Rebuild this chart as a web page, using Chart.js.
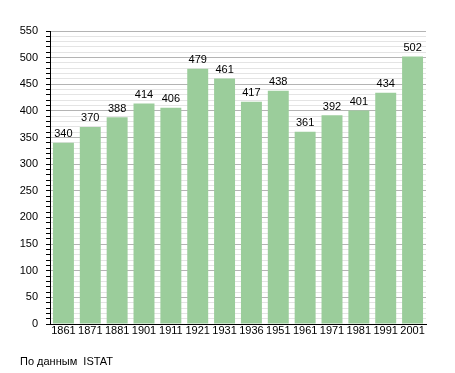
<!DOCTYPE html>
<html>
<head>
<meta charset="utf-8">
<script src="https://cdn.jsdelivr.net/npm/chart.js@4.4.0/dist/chart.umd.min.js"></script>
<style>
  body { margin: 0; background: #fff; }
  #wrap { width: 455px; height: 373px; position: relative; }
</style>
</head>
<body>
<div id="wrap"><canvas id="popChart" width="455" height="373"></canvas></div>
<script>
// data
const years = ['1861', '1871', '1881', '1901', '1911', '1921', '1931', '1936', '1951', '1961', '1971', '1981', '1991', '2001'];
const population = [340, 370, 388, 414, 406, 479, 461, 417, 438, 361, 392, 401, 434, 502];
const source_text = 'По данным  ISTAT';

const font_family = '"Liberation Sans", Arial, sans-serif';

// value labels above bars + footer text
const labelsPlugin = {
    id: 'barLabels',
    afterDatasetsDraw(chart) {
        const ctx = chart.ctx;
        const meta = chart.getDatasetMeta(0);
        ctx.save();
        ctx.font = '11px ' + font_family;
        ctx.fillStyle = '#000';
        ctx.textAlign = 'center';
        ctx.textBaseline = 'bottom';
        meta.data.forEach((bar, i) => {
            ctx.fillText(population[i], bar.x, bar.y - 3);
        });
        ctx.textAlign = 'left';
        ctx.textBaseline = 'middle';
        ctx.fillText(source_text, 20, 362);
        ctx.restore();
    }
};

new Chart(document.getElementById('popChart').getContext('2d'), {
    type: 'bar',
    data: {
        labels: years,
        datasets: [{
            data: population,
            backgroundColor: '#9bcd9b',
            borderWidth: 0,
            barPercentage: 1,
            categoryPercentage: 0.78
        }]
    },
    options: {
        responsive: false,
        animation: false,
        layout: { padding: { left: 0, right: 29, top: 31, bottom: 31 } },
        plugins: { legend: { display: false }, tooltip: { enabled: false } },
        scales: {
            x: {
                grid: { display: false, drawTicks: false },
                border: { color: '#000', width: 1 },
                ticks: { color: '#000', font: { size: 11, family: font_family }, padding: 0, maxRotation: 0, autoSkip: false },
                afterFit: scale => { scale.height = 18; }
            },
            y: {
                min: 0,
                max: 550,
                grid: {
                    color: ctx => (ctx.tick && ctx.tick.value % 50 === 0) ? '#b4b4b4' : '#e4e4e4',
                    tickColor: '#000',
                    tickLength: 4
                },
                border: { color: '#000', width: 1 },
                ticks: {
                    stepSize: 10,
                    autoSkip: false,
                    color: '#000',
                    font: { size: 11, family: font_family },
                    padding: 8,
                    callback: v => v % 50 === 0 ? v : ''
                },
                afterFit: scale => { scale.width = 50; }
            }
        }
    },
    plugins: [labelsPlugin]
});
</script>
</body>
</html>
